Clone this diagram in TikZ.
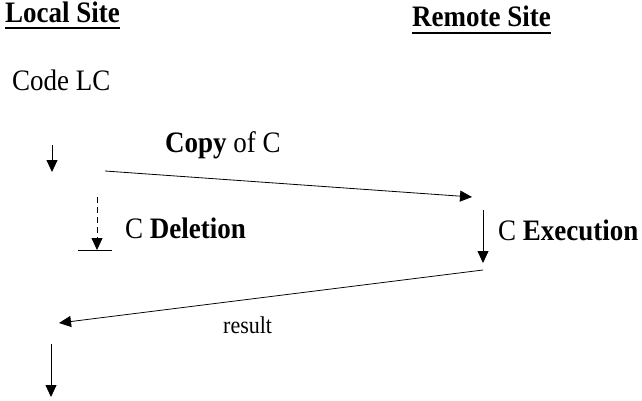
\documentclass[tikz,border=0pt]{standalone}
\usepackage{fontspec}
\setmainfont{Liberation Serif}
\usetikzlibrary{arrows.meta}
\tikzset{
  lbl/.style={inner sep=0, anchor=base west, font=\fontsize{27}{32}\selectfont},
  small/.style={inner sep=0, anchor=base west, font=\fontsize{22}{26}\selectfont},
  flow/.style={line width=0.8pt, -{Triangle[length=12pt,width=11pt]}},
  uline/.style={line width=2pt}
}
\newcommand{\tall}[1]{\scalebox{1}[1.1]{#1}}
\begin{document}
\begin{tikzpicture}[x=1pt,y=-1pt]
\useasboundingbox (0,0) rectangle (642,401);
\node[lbl] (local) at (5,23) {\tall{\textbf{Local Site}}};
\node[lbl] (remote) at (412,27) {\tall{\textbf{Remote Site}}};
\draw[uline] ([yshift=-5pt]local.base west) -- ([yshift=-5pt]local.base east);
\draw[uline] ([yshift=-6pt]remote.base west) -- ([yshift=-6pt]remote.base east);
\node[lbl] (code) at (12,91) {\tall{Code LC}};
\node[lbl] (copy) at (165,153) {\tall{\textbf{Copy} of C}};
\node[lbl] (del) at (125,238) {\tall{C \textbf{Deletion}}};
\node[lbl] (exec) at (498,240) {\tall{C \textbf{Execution}}};
\node[small] (res) at (223,333) {\tall{result}};
\coordinate (l0) at (52,145);
\coordinate (l1) at (52,172);
\coordinate (c0) at (105,171);
\coordinate (c1) at (472,197);
\coordinate (d0) at (97,197);
\coordinate (d1) at (97,250);
\coordinate (b0) at (78,250);
\coordinate (b1) at (112,250);
\coordinate (e0) at (483,210);
\coordinate (e1) at (483,263);
\coordinate (r0) at (483,270);
\coordinate (r1) at (59,323);
\coordinate (f0) at (51,344);
\coordinate (f1) at (51,397);
\draw[flow] (l0) -- (l1);
\draw[flow] (c0) -- (c1);
\draw[flow, dash pattern=on 6pt off 4pt] (d0) -- (d1);
\draw[line width=0.8pt] (b0) -- (b1);
\draw[flow] (e0) -- (e1);
\draw[flow] (r0) -- (r1);
\draw[flow] (f0) -- (f1);
\end{tikzpicture}
\end{document}
